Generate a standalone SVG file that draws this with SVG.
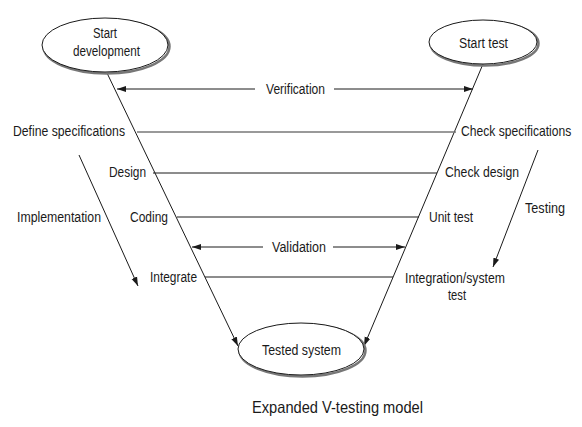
<svg xmlns="http://www.w3.org/2000/svg" width="582" height="427" viewBox="0 0 582 427">
<style>
text{font-family:"Liberation Sans",Arial,sans-serif;font-size:14px;fill:#1a1a1a}
.ln{stroke:#1a1a1a;stroke-width:1;fill:none}
.el{fill:#fff;stroke:#1a1a1a;stroke-width:1}
.sh{fill:none;stroke:#777;stroke-width:2.5}
</style>
<defs>
<marker id="ah" markerWidth="10" markerHeight="8" refX="9" refY="4" orient="auto" markerUnits="userSpaceOnUse">
<path d="M0,1 L9,4 L0,7 Z" fill="#1a1a1a"/>
</marker>
</defs>
<g id="connectors">
<line class="ln" x1="107" y1="73" x2="238" y2="346" marker-end="url(#ah)"/>
<line class="ln" x1="483" y1="64" x2="364" y2="346" marker-end="url(#ah)"/>
<line class="ln" x1="255" y1="89" x2="117" y2="89" marker-end="url(#ah)"/>
<line class="ln" x1="334" y1="89" x2="473" y2="89" marker-end="url(#ah)"/>
<line x1="137" y1="132" x2="456" y2="132" stroke="#777" stroke-width="1.6"/>
<line class="ln" x1="153" y1="173" x2="437" y2="173"/>
<line class="ln" x1="177" y1="217" x2="419" y2="217"/>
<line class="ln" x1="263" y1="247" x2="192" y2="247" marker-end="url(#ah)"/>
<line class="ln" x1="333" y1="247" x2="405" y2="247" marker-end="url(#ah)"/>
<line class="ln" x1="205" y1="277" x2="393" y2="277"/>
<line class="ln" x1="79" y1="155" x2="138" y2="286" marker-end="url(#ah)"/>
<line class="ln" x1="538" y1="150" x2="493" y2="267" marker-end="url(#ah)"/>
</g>
<g id="start-development">
<ellipse class="sh" cx="106.5" cy="46.5" rx="63" ry="27"/>
<ellipse class="el" cx="105" cy="45" rx="63" ry="27"/>
<text x="93" y="38" textLength="24" lengthAdjust="spacingAndGlyphs">Start</text>
<text x="73" y="56" textLength="67" lengthAdjust="spacingAndGlyphs">development</text>
</g>
<g id="start-test">
<ellipse class="sh" cx="484.5" cy="43.5" rx="54" ry="22"/>
<ellipse class="el" cx="483" cy="42" rx="54" ry="22"/>
<text x="459" y="48" textLength="49" lengthAdjust="spacingAndGlyphs">Start test</text>
</g>
<g id="tested-system">
<ellipse class="sh" cx="302.5" cy="350.5" rx="63" ry="26"/>
<ellipse class="el" cx="301" cy="349" rx="63" ry="26"/>
<text x="262" y="355" textLength="79" lengthAdjust="spacingAndGlyphs">Tested system</text>
</g>
<g id="labels">
<text x="266" y="94" textLength="59" lengthAdjust="spacingAndGlyphs">Verification</text>
<text x="13" y="136" textLength="112" lengthAdjust="spacingAndGlyphs">Define specifications</text>
<text transform="translate(461 136) scale(0.865 1)">Check specifications</text>
<text x="109" y="177" textLength="37" lengthAdjust="spacingAndGlyphs">Design</text>
<text x="445" y="177" textLength="74" lengthAdjust="spacingAndGlyphs">Check design</text>
<text x="130" y="222" textLength="38" lengthAdjust="spacingAndGlyphs">Coding</text>
<text x="429" y="222" textLength="44" lengthAdjust="spacingAndGlyphs">Unit test</text>
<text x="17" y="222" textLength="84" lengthAdjust="spacingAndGlyphs">Implementation</text>
<text x="525" y="213" textLength="40" lengthAdjust="spacingAndGlyphs">Testing</text>
<text x="272" y="252" textLength="54" lengthAdjust="spacingAndGlyphs">Validation</text>
<text x="150" y="282" textLength="47" lengthAdjust="spacingAndGlyphs">Integrate</text>
<text x="405" y="283" textLength="100" lengthAdjust="spacingAndGlyphs">Integration/system</text>
<text x="448" y="300" textLength="18" lengthAdjust="spacingAndGlyphs">test</text>
<text x="252" y="413" textLength="171" lengthAdjust="spacingAndGlyphs" style="font-size:16.5px">Expanded V-testing model</text>
</g>
</svg>
